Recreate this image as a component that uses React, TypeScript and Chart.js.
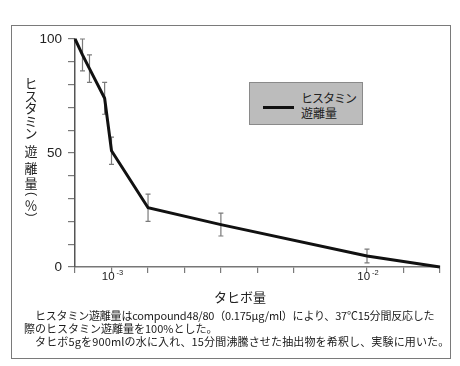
import React, { useEffect, useRef } from 'react';
import { Chart, registerables } from 'chart.js';

Chart.register(...registerables);

// ---- data ----
const doses = [7.2e-4, 7.7e-4, 8.2e-4, 9.4e-4, 1.0e-3, 1.39e-3, 2.68e-3, 1.0e-2, 1.93e-2];
const release = [100, 93, 87, 74, 51, 26, 18.6, 4.8, 0];
const errors = [0, 7, 6, 7, 6, 6, 5, 3, 0];

const yMin = 0;
const yMax = 100;
const yStep = 10;
const yLabelEvery = 50;

// x axis: log scale, ticks every 1/7 decade, labels only at decades
const xTickExponents = [-3 - 1 / 7, -3, -3 + 1 / 7, -3 + 2 / 7, -3 + 3 / 7, -3 + 4 / 7, -3 + 5 / 7, -2, -2 + 1 / 7, -2 + 2 / 7];
const xLabelExponents = [-3, -2];

const seriesLabel = 'ヒスタミン遊離量';
const yTitle = ['ヒ', 'ス', 'タ', 'ミ', 'ン', '遊', '離', '量', '（', '％', '）'];
const xTitle = 'タヒボ量';
const captionLines = [
  'ヒスタミン遊離量はcompound48/80（0.175μg/ml）により、37℃15分間反応した',
  '際のヒスタミン遊離量を100%とした。',
  'タヒボ5gを900mlの水に入れ、15分間沸騰させた抽出物を希釈し、実験に用いた。',
];

const LATIN = '"Liberation Sans", Arial, sans-serif';
const CJK = '"Noto Sans CJK JP", "Noto Sans", sans-serif';

const errorBarPlugin = {
  id: 'errorBars',
  beforeDatasetsDraw(chart: any) {
    const { ctx, scales } = chart;
    const xs = scales.x;
    const ys = scales.y;
    ctx.save();
    ctx.strokeStyle = '#7a7a7a';
    ctx.lineWidth = 1.2;
    doses.forEach((d, i) => {
      const e = errors[i];
      if (!e) return;
      const x = xs.getPixelForValue(d);
      const y1 = ys.getPixelForValue(release[i] + e);
      const y2 = ys.getPixelForValue(release[i] - e);
      ctx.beginPath();
      ctx.moveTo(x, y1);
      ctx.lineTo(x, y2);
      ctx.moveTo(x - 2.5, y1);
      ctx.lineTo(x + 2.5, y1);
      ctx.moveTo(x - 2.5, y2);
      ctx.lineTo(x + 2.5, y2);
      ctx.stroke();
    });
    ctx.restore();
  },
};

const textPlugin = {
  id: 'extraText',
  afterDraw(chart: any) {
    const { ctx, scales, chartArea } = chart;
    const xs = scales.x;
    ctx.save();
    ctx.fillStyle = '#222';
    // x tick labels 10^n
    xLabelExponents.forEach((p) => {
      const x = xs.getPixelForValue(Math.pow(10, p)) + 1;
      const base = '10';
      const sup = String(p);
      ctx.font = `11.5px ${LATIN}`;
      const wb = ctx.measureText(base).width;
      ctx.font = `7.5px ${LATIN}`;
      const ws = ctx.measureText(sup).width;
      const total = wb + 2 + ws;
      const left = x - total / 2;
      const baseY = chartArea.bottom + 12.5;
      ctx.textAlign = 'left';
      ctx.textBaseline = 'alphabetic';
      ctx.font = `11.5px ${LATIN}`;
      ctx.fillText(base, left, baseY);
      ctx.font = `7.5px ${LATIN}`;
      ctx.fillText(sup, left + wb + 2, baseY - 4.5);
    });
    // vertical y-axis title
    const cx = 31;
    const centers = [83, 96, 108.5, 121.5, 133, 151.5, 168, 183.5, 194, 205, 214.5];
    ctx.font = `13px ${CJK}`;
    ctx.textAlign = 'center';
    ctx.textBaseline = 'middle';
    yTitle.forEach((ch, i) => {
      const cy = centers[i];
      if (ch === '（' || ch === '）') {
        ctx.save();
        ctx.translate(cx, cy);
        ctx.rotate(Math.PI / 2);
        ctx.font = `12px ${LATIN}`;
        ctx.fillText(ch === '（' ? '(' : ')', 0, 0);
        ctx.restore();
      } else {
        ctx.fillText(ch, cx, cy);
      }
    });
    ctx.restore();
  },
};

export default function App() {
  const ref = useRef<HTMLCanvasElement>(null);

  useEffect(() => {
    if (!ref.current) return;
    const chart = new Chart(ref.current, {
      type: 'line',
      data: {
        datasets: [
          {
            label: seriesLabel,
            data: doses.map((d, i) => ({ x: d, y: release[i] })),
            borderColor: '#111',
            borderWidth: 3,
            pointRadius: 0,
            tension: 0,
            clip: false as any,
            borderJoinStyle: 'miter',
          },
        ],
      },
      options: {
        animation: false,
        responsive: false,
        devicePixelRatio: 1,
        layout: { padding: { left: 15, top: 39, right: 20, bottom: 59 } },
        plugins: { legend: { display: false }, tooltip: { enabled: false }, title: { display: false } },
        scales: {
          x: {
            type: 'logarithmic',
            min: Math.pow(10, xTickExponents[0]),
            max: Math.pow(10, xTickExponents[xTickExponents.length - 1]),
            afterBuildTicks: (scale: any) => {
              scale.ticks = xTickExponents.map((p) => ({ value: Math.pow(10, p) }));
            },
            afterFit: (scale: any) => {
              scale.height = 40;
            },
            ticks: { autoSkip: false, maxRotation: 0, callback: () => '', font: { size: 11, family: LATIN } },
            grid: { drawOnChartArea: false, drawTicks: true, tickLength: 6, color: '#7a7a7a', lineWidth: 1.2 },
            border: { color: '#777', width: 1.5 },
          },
          y: {
            min: yMin,
            max: yMax,
            afterFit: (scale: any) => {
              scale.width = 60;
            },
            ticks: {
              stepSize: yStep,
              autoSkip: false,
              padding: 6,
              color: '#222',
              font: { size: 13.5, family: LATIN },
              callback: (v: any) => (Number(v) % yLabelEvery === 0 ? String(v) : ''),
            },
            grid: { drawOnChartArea: false, drawTicks: true, tickLength: 7, color: '#7a7a7a', lineWidth: 1.2 },
            border: { color: '#555', width: 1.5 },
          },
        },
      },
      plugins: [errorBarPlugin, textPlugin],
    } as any);
    return () => chart.destroy();
  }, []);

  const captionStyle: React.CSSProperties = {
    position: 'absolute',
    fontFamily: CJK,
    fontSize: 11,
    lineHeight: '16px',
    color: '#1a1a1a',
    whiteSpace: 'nowrap',
  };

  return (
    <div style={{ position: 'absolute', left: 0, top: 0, width: 460, height: 366, background: '#fff', overflow: 'hidden' }}>
      <div
        style={{
          position: 'absolute',
          left: 11,
          top: 25,
          width: 438,
          height: 332,
          border: '1.5px solid #7a7a7a',
        }}
      />
      <canvas ref={ref} width={460} height={366} style={{ position: 'absolute', left: 0, top: 0 }} />
      {/* legend */}
      <div
        style={{
          position: 'absolute',
          left: 249,
          top: 82,
          width: 114,
          height: 43,
          background: '#bcbcbc',
          border: '1px solid #8a8a8a',
          boxSizing: 'border-box',
        }}
      >
        <div style={{ position: 'absolute', left: 13, top: 23, width: 31, height: 3, background: '#111' }} />
        <div
          style={{
            position: 'absolute',
            left: 51,
            top: 7,
            fontFamily: CJK,
            fontSize: 12,
            lineHeight: '15px',
            color: '#222',
            whiteSpace: 'nowrap',
          }}
        >
          <div style={{ letterSpacing: '-1px' }}>ヒスタミン</div>
          <div>遊離量</div>
        </div>
      </div>
      {/* x title */}
      <div
        style={{
          position: 'absolute',
          left: 190,
          width: 100,
          top: 288,
          textAlign: 'center',
          fontFamily: CJK,
          fontSize: 13,
          lineHeight: '18px',
          color: '#222',
        }}
      >
        {xTitle}
      </div>
      {/* caption */}
      <div style={{ ...captionStyle, left: 35, top: 307, letterSpacing: '-0.2px' }}>{captionLines[0]}</div>
      <div style={{ ...captionStyle, left: 24, top: 320 }}>{captionLines[1]}</div>
      <div style={{ ...captionStyle, left: 35, top: 333, letterSpacing: '0.15px' }}>{captionLines[2]}</div>
    </div>
  );
}
